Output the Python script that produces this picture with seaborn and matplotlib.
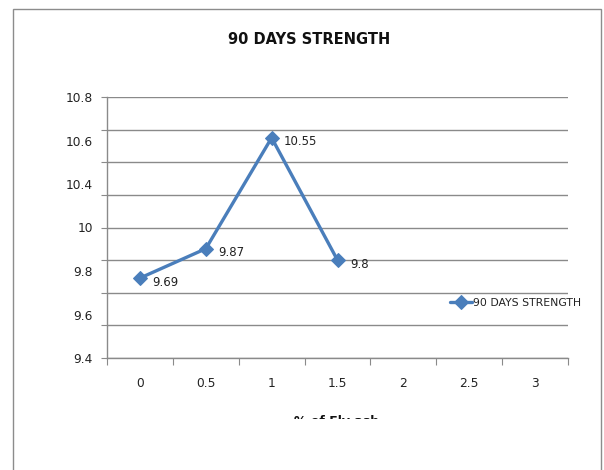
import numpy as np
import pandas as pd
import matplotlib
matplotlib.use("Agg")
import matplotlib.pyplot as plt
from matplotlib.patches import Rectangle
from matplotlib.transforms import Bbox, TransformedBbox
import seaborn as sns

# Data
categories = ["0", "0.5", "1", "1.5", "2", "2.5", "3"]
fly_ash = ["0", "0.5", "1", "1.5"]
strength = [9.69, 9.87, 10.55, 9.8]
y_grid = [9.2, 9.4, 9.6, 9.8, 10.0, 10.2, 10.4, 10.6, 10.8]
y_labels = ["9.4", "9.6", "9.8", "10", "10.4", "10.6", "10.8"]
series_name = "90 DAYS STRENGTH"
x_title = "% of Fly ash"

sns.set_style("white")
plt.rcParams["font.family"] = ["Liberation Sans Narrow", "DejaVu Sans"]

df = pd.DataFrame({"fly_ash": fly_ash, "strength": strength, "series": series_name})

fig = plt.figure(figsize=(6.04, 4.70), dpi=100)
ax = fig.add_axes([107 / 604, 1 - 358 / 470, (568 - 107) / 604, (358 - 97) / 470])

blue = "#4A7EBB"
sns.lineplot(data=df, x="fly_ash", y="strength", hue="series", palette=[blue],
             marker="D", markersize=7, linewidth=2.4, markeredgecolor=blue,
             sort=False, ax=ax)

for i, v in enumerate(strength):
    ax.annotate(f"{v:g}", (i, v), xytext=(9, -3), textcoords="offset points",
                ha="left", va="center", fontsize=8.5, color="#222222")

ax.set_xlim(-0.5, len(categories) - 0.5)
ax.set_ylim(y_grid[0], y_grid[-1])

# gridlines and tick marks on the 0.2 grid
ax.yaxis.remove_overlapping_locs = False
ax.set_yticks(y_grid)
ax.set_yticklabels([])
ax.yaxis.grid(True, color="#8a8a8a", linewidth=1)
ax.tick_params(axis="y", which="major", left=True, length=4, color="#8a8a8a")
ax.set_yticks(np.linspace(y_grid[0], y_grid[-1], len(y_labels)), minor=True)
ax.set_yticklabels(y_labels, minor=True)
ax.tick_params(axis="y", which="minor", length=0, labelsize=8.8, pad=10, labelcolor="#222222")

# category boundaries carry the tick marks, labels sit at centres
ax.set_xticks(np.arange(-0.5, len(categories), 1.0))
ax.set_xticklabels([])
ax.tick_params(axis="x", which="major", bottom=True, length=5, color="#8a8a8a")
ax.set_xticks(np.arange(len(categories)), minor=True)
ax.set_xticklabels(categories, minor=True)
ax.tick_params(axis="x", which="minor", length=0, labelsize=8.8, pad=14, labelcolor="#222222")
ax.xaxis.grid(False)

ax.set_xlabel("")
ax.set_ylabel("")
for side in ["top", "right"]:
    ax.spines[side].set_visible(False)
for side in ["left", "bottom"]:
    ax.spines[side].set_color("#8a8a8a")
    ax.spines[side].set_linewidth(1)

leg = ax.legend(loc="center left", bbox_to_anchor=(0.735, 0.21), frameon=False,
                fontsize=7.8, handlelength=2.0, handletextpad=0.1, borderaxespad=0)
for t in leg.get_texts():
    t.set_color("#222222")

fig.text(309 / 604, 1 - 40 / 470, series_name, ha="center", va="center",
         fontsize=10.5, fontweight="bold", color="#111111")

# axis title, cut off at the lower edge of the chart area
xt = fig.text(337 / 604, 1 - 415 / 470, x_title, ha="center", va="top",
              fontsize=9, fontweight="bold", color="#111111")
xt.set_clip_box(TransformedBbox(Bbox([[0, 1 - 418.5 / 470], [1, 1]]), fig.transFigure))
xt.set_clip_on(True)

# chart area border
fig.add_artist(Rectangle((13 / 604, -0.05), (601 - 13) / 604, 1.05 - 8.5 / 470,
                         transform=fig.transFigure, fill=False,
                         edgecolor="#8c8c8c", linewidth=1))

fig.savefig("out.png", dpi=100)
